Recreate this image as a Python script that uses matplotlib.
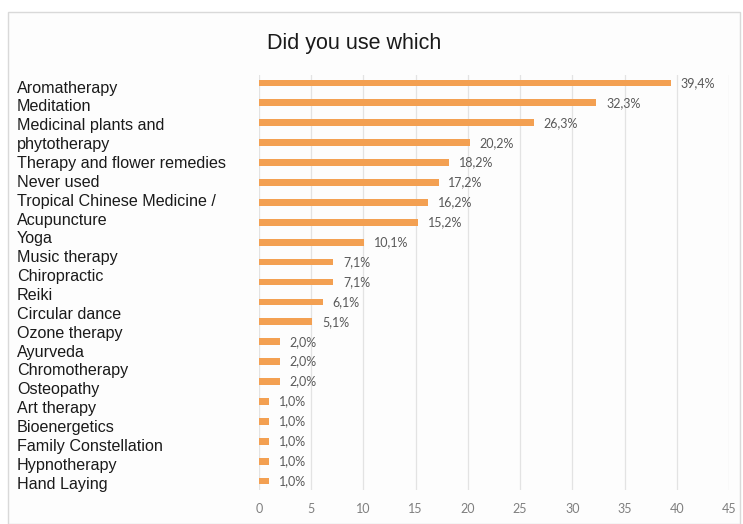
import matplotlib
matplotlib.use("Agg")
import matplotlib.pyplot as plt
from matplotlib.patches import Rectangle

title = "Did you use which"

# Category text as it is laid out in the left column (one entry per line)
label_lines = [
    "Aromatherapy", "Meditation", "Medicinal plants and", "phytotherapy",
    "Therapy and flower remedies", "Never used", "Tropical Chinese Medicine /",
    "Acupuncture", "Yoga", "Music therapy", "Chiropractic", "Reiki",
    "Circular dance", "Ozone therapy", "Ayurveda", "Chromotherapy",
    "Osteopathy", "Art therapy", "Bioenergetics", "Family Constellation",
    "Hypnotherapy", "Hand Laying",
]

# Percentages, top to bottom
values = [39.4, 32.3, 26.3, 20.2, 18.2, 17.2, 16.2, 15.2, 10.1, 7.1, 7.1,
          6.1, 5.1, 2.0, 2.0, 2.0, 1.0, 1.0, 1.0, 1.0, 1.0]

x_ticks = [0, 5, 10, 15, 20, 25, 30, 35, 40, 45]

W, H = 743, 524
fig = plt.figure(figsize=(W / 100, H / 100), dpi=100)
fig.patch.set_facecolor("white")

# light frame around the chart area
fig.add_artist(Rectangle((8 / W, 0), (740 - 8) / W, 1 - 12 / H,
                         transform=fig.transFigure, fill=True,
                         facecolor="#fdfdfd", edgecolor="#d9d9d9", lw=1.0,
                         zorder=-10))

ax = fig.add_axes([259 / W, 1 - 490 / H, (729 - 259) / W, (490 - 75) / H])
ax.set_facecolor("none")

pos = list(range(len(values)))
ax.barh(pos, values, height=0.34, color="#f3a052", zorder=3)
ax.set_ylim(len(values) - 0.55, -0.4)
ax.set_xlim(0, 45)
ax.set_xticks(x_ticks)
ax.set_xticklabels([str(t) for t in x_ticks], color="#7f7f7f",
                   fontsize=9, family="Lato")
ax.tick_params(axis="x", length=0, pad=9.5)
ax.set_yticks([])
ax.grid(axis="x", color="#e3e3e3", lw=0.9, zorder=0)
for s in ax.spines.values():
    s.set_visible(False)

for p, v in zip(pos, values):
    ax.annotate(f"{v:.1f}%".replace(".", ","), (v, p), xytext=(7, 0),
                textcoords="offset points", va="center", ha="left",
                fontsize=9, color="#595959", family="Lato")

# left column of category text
for i, line in enumerate(label_lines):
    y = 88 + i * 18.86
    fig.text(17 / W, 1 - y / H, line, ha="left", va="center",
             fontsize=11.6, family="Liberation Sans", color="#1a1a1a")

fig.text(354 / W, 1 - 44 / H, title, ha="center", va="center",
         fontsize=15.5, family="Liberation Sans", color="#1a1a1a")

fig.savefig("out.png", dpi=100)
